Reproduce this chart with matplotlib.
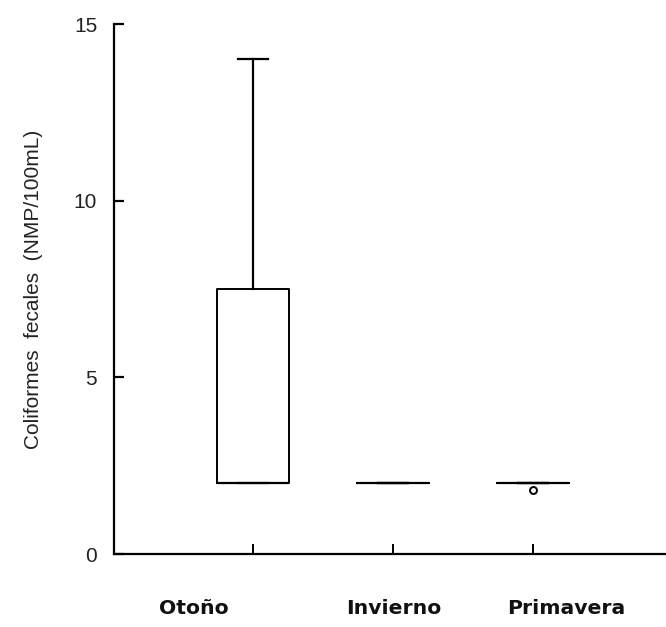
import matplotlib
matplotlib.use('Agg')
import matplotlib.pyplot as plt

plt.rcParams['font.family'] = ['Liberation Sans', 'DejaVu Sans']

# Box statistics
seasons = ['Otoño', 'Invierno', 'Primavera']
whisker_low = [2.0, 2.0, 2.0]
q1 = [2.0, 2.0, 2.0]
medians = [2.0, 2.0, 2.0]
q3 = [7.5, 2.0, 2.0]
whisker_high = [14.0, 2.0, 2.0]
outliers = [[], [], [1.8]]

stats = []
for i, name in enumerate(seasons):
    stats.append(dict(label=name, whislo=whisker_low[i], q1=q1[i], med=medians[i],
                      q3=q3[i], whishi=whisker_high[i], fliers=outliers[i]))

fig = plt.figure(figsize=(6.66, 6.27), dpi=100)
ax = fig.add_axes([0.171, 0.1164, 0.829, 0.8453])

ax.bxp(stats, positions=[1, 2, 3], widths=0.51, capwidths=0.21, showcaps=True,
       boxprops=dict(color='black', linewidth=1.4),
       medianprops=dict(color='black', linewidth=1.6),
       whiskerprops=dict(color='black', linewidth=1.6),
       capprops=dict(color='black', linewidth=1.6),
       flierprops=dict(marker='o', markersize=5, markerfacecolor='white',
                       markeredgecolor='black', markeredgewidth=1.4))

ax.set_xlim(0.007, 3.95)
ax.set_ylim(0, 15)
ax.set_yticks([0, 5, 10, 15])
ax.set_xticks([1, 2, 3])
ax.set_xticklabels([])
ax.spines['top'].set_visible(False)
ax.spines['right'].set_visible(False)
ax.spines['left'].set_linewidth(1.6)
ax.spines['bottom'].set_linewidth(1.6)
ax.tick_params(axis='y', direction='in', length=7, width=1.6, labelsize=15,
               pad=12, labelcolor='#222222')
ax.tick_params(axis='x', direction='in', length=7, width=1.4)

# category labels sit below the axis, slightly off the tick marks
label_x = [0.58, 2.007, 3.236]
for name, x in zip(seasons, label_x):
    ax.text(x, -1.53, name, ha='center', va='center', fontsize=14.7,
            fontweight='bold', family='DejaVu Sans', color='#111111')

ax.set_ylabel('Coliformes  fecales  (NMP/100mL)', fontsize=15, labelpad=22,
              color='#222222')

plt.savefig('out.png', dpi=100)
